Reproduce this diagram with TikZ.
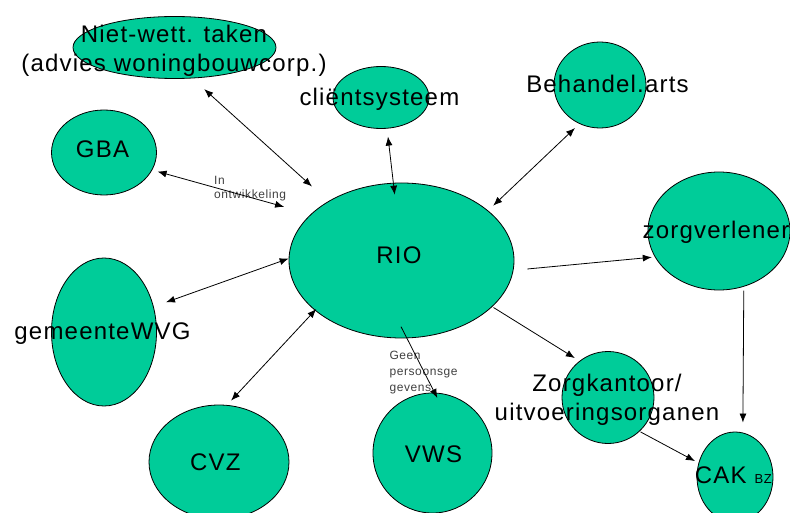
\documentclass[tikz,border=0pt]{standalone}
\usepackage{fontspec}
\setmainfont{Liberation Sans}[LetterSpace=5]
\usepackage{tikz}
\usetikzlibrary{shapes.geometric}
\usetikzlibrary{arrows.meta}
\usepackage{xcolor}
\definecolor{riogreen}{RGB}{0,204,153}

\begin{document}
\begin{tikzpicture}[x=1pt, y=-1pt,
		bubble/.style={ellipse, draw=black, fill=riogreen, line width=0.8pt, inner sep=0pt},
		lbl/.style={font=\fontsize{24}{29}\selectfont, text=black, align=center, inner sep=0pt},
		note/.style={font=\fontsize{12}{14}\selectfont, text=black!75, align=left, inner sep=0pt},
		link/.style={black, line width=0.8pt, {Latex[length=9pt, width=7pt]}-{Latex[length=9pt, width=7pt]}},
		flow/.style={black, line width=0.8pt, -{Latex[length=9pt, width=7pt]}}]
	\useasboundingbox (0,0) rectangle (790,513);
	% ellipses
	\node[bubble, minimum width=203pt, minimum height=62pt] (niet) at (174.5,47.5) {};
	\node[bubble, minimum width=96pt, minimum height=62pt] (client) at (381,97.5) {};
	\node[bubble, minimum width=92pt, minimum height=86pt] (arts) at (600,85) {};
	\node[bubble, minimum width=105pt, minimum height=85pt] (gba) at (104,152.5) {};
	\node[bubble, minimum width=225pt, minimum height=155pt] (rio) at (401.5,260.5) {};
	\node[bubble, minimum width=142pt, minimum height=118pt] (zorg) at (719,231) {};
	\node[bubble, minimum width=105pt, minimum height=148pt] (wvg) at (104,332) {};
	\node[bubble, minimum width=140pt, minimum height=114pt] (cvz) at (219,462) {};
	\node[bubble, minimum width=119pt, minimum height=120pt] (vws) at (432.5,453) {};
	\node[bubble, minimum width=92pt, minimum height=92pt] (kantoor) at (608,397.5) {};
	\node[bubble, minimum width=76pt, minimum height=90pt] (cak) at (735,477) {};
	% labels
	\node[lbl] (niettext) at (174,50.4) {Niet-wett. taken\\(advies woningbouwcorp.)};
	\node[lbl, anchor=base] (clienttext) at (379.4,105.7) {cliëntsysteem};
	\node[lbl, anchor=base] (artstext) at (607.5,93) {Behandel.arts};
	\node[lbl, anchor=base] (gbatext) at (102.5,157.7) {GBA};
	\node[lbl, anchor=base] (riotext) at (399,263.3) {RIO};
	\node[lbl, anchor=base] (zorgtext) at (716,239) {zorgverlener};
	\node[lbl, anchor=base] (wvgtext) at (102.5,339) {gemeenteWVG};
	\node[lbl, anchor=base] (cvztext) at (215.3,470) {CVZ};
	\node[lbl, anchor=base] (vwstext) at (433.5,462) {VWS};
	\node[lbl] (kantoortext) at (607,399.8) {Zorgkantoor/\\uitvoeringsorganen};
	\node[lbl, anchor=base] (caktext) at (733.4,483.3) {CAK {\fontsize{13}{15}\selectfont BZ}};
	\node[note, anchor=north west] (ontw) at (214,176.4) {In\\ontwikkeling};
	\node[note, anchor=north west, font=\fontsize{12}{16}\selectfont] (geen) at (389.3,350.7) {Geen\\persoonsge\\gevens};
	% connectors
	\draw[link, shorten <=16pt, shorten >=22pt] (niet.-60) -- (rio.141);
	\draw[link, shorten <=8pt, shorten >=-12pt] (client.-79) -- (rio.96);
	\draw[link, shorten <=6pt, shorten >=7pt] (arts.-118) -- (rio.30);
	\draw[link, shorten <=5.5pt, shorten >=27.6pt] (gba.-20) -- (rio.153);
	\draw[link, shorten <=13pt, shorten >=0pt] (wvg.27) -- (rio.179);
	\draw[link, shorten <=6pt, shorten >=-2pt] (cvz.82) -- (rio.-150);
	\draw[flow, shorten <=14pt, shorten >=3pt] (rio.-5) -- (zorg.-158);
	\draw[flow, shorten <=1.4pt, shorten >=5.4pt] (rio.-27) -- (kantoor.128);
	\draw[flow, shorten <=-13pt, shorten >=-6pt] (rio.-86) -- (vws.88);
	\draw[flow, shorten <=4pt, shorten >=10pt] (zorg.-66) -- (cak.80);
	\draw[flow, shorten <=1pt, shorten >=4pt] (kantoor.-47) -- (cak.159);
\end{tikzpicture}
\end{document}
